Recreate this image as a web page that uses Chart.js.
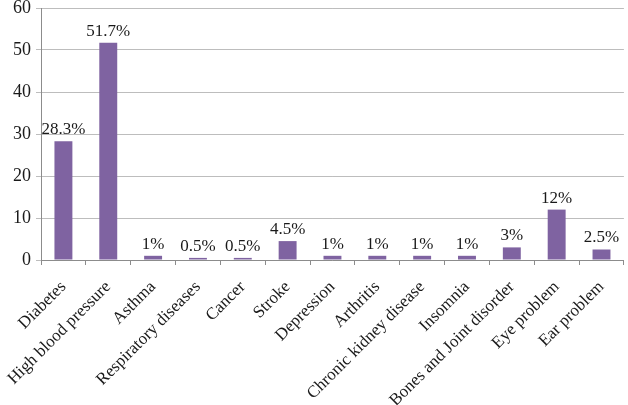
<!DOCTYPE html>
<html>
<head>
<meta charset="utf-8">
<script src="https://cdn.jsdelivr.net/npm/chart.js@4"></script>
<style>
html, body { margin: 0; padding: 0; background: #fff; }
#wrap { width: 628px; height: 405px; }
</style>
</head>
<body>
<div id="wrap"><canvas id="bar_chart"></canvas></div>
<script>
var categories = ["Diabetes", "High blood pressure", "Asthma", "Respiratory diseases", "Cancer", "Stroke", "Depression", "Arthritis", "Chronic kidney disease", "Insomnia", "Bones and Joint disorder", "Eye problem", "Ear problem"];
var percentValues = [28.3, 51.7, 1, 0.5, 0.5, 4.5, 1, 1, 1, 1, 3, 12, 2.5];
var yTicks = [0, 10, 20, 30, 40, 50, 60];

var serif = "'Liberation Serif', 'Times New Roman', serif";

// draw value labels above each bar
var valueLabels = {
	id: 'valueLabels',
	afterDatasetsDraw: function(chart) {
		var ctx = chart.ctx;
		var meta = chart.getDatasetMeta(0);
		ctx.save();
		ctx.font = "17px " + serif;
		ctx.fillStyle = "#1a1a1a";
		ctx.textAlign = "center";
		ctx.textBaseline = "bottom";
		meta.data.forEach(function(bar, i) {
			ctx.fillText(percentValues[i] + "%", bar.x, bar.y - 3);
		});
		ctx.restore();
	}
};

new Chart(document.getElementById("bar_chart"), {
	type: 'bar',
	data: {
		labels: categories,
		datasets: [{
			data: percentValues,
			backgroundColor: '#7F63A1',
			barPercentage: 0.8,
			categoryPercentage: 0.5
		}]
	},
	options: {
		responsive: true,
		maintainAspectRatio: false,
		animation: false,
		layout: { padding: { top: 8, right: 2, left: 0, bottom: 0 } },
		plugins: {
			legend: { display: false },
			tooltip: { enabled: false }
		},
		scales: {
			x: {
				offset: true,
				afterFit: function(axis) { axis.height = 145; },
				grid: {
					offset: true,
					drawOnChartArea: false,
					color: '#8c8c8c',
					tickLength: 5
				},
				border: { color: '#8c8c8c' },
				ticks: {
					color: '#1a1a1a',
					font: { family: serif, size: 17 },
					maxRotation: 45,
					minRotation: 45,
					autoSkip: false,
					padding: 12
				}
			},
			y: {
				min: 0,
				max: 60,
				afterBuildTicks: function(axis) {
					axis.ticks = yTicks.map(function(v) { return { value: v }; });
				},
				afterFit: function(axis) {
					axis.width = 41;
					axis.paddingTop = 0;
				},
				grid: {
					color: '#bdbdbd',
					tickLength: 5
				},
				border: { color: '#8c8c8c' },
				ticks: {
					color: '#1a1a1a',
					font: { family: serif, size: 18 },
					padding: 5
				}
			}
		}
	},
	plugins: [valueLabels]
});
</script>
</body>
</html>
